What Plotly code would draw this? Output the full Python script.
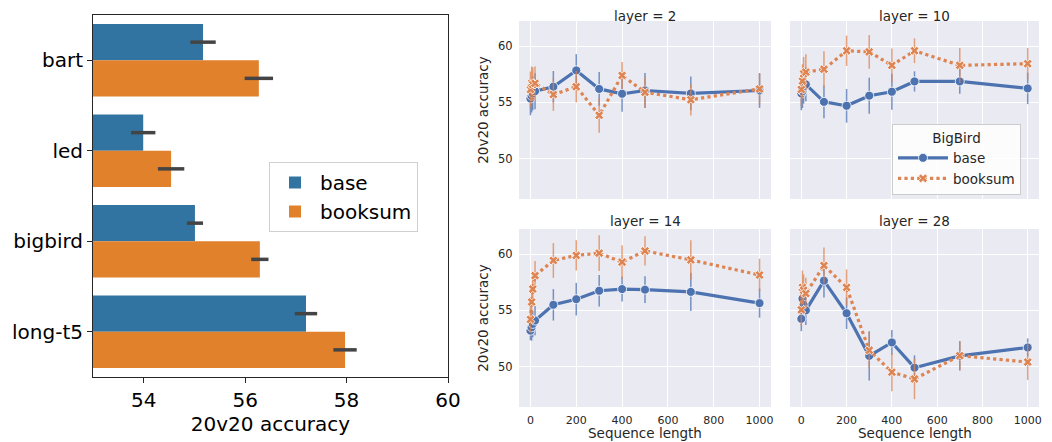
import plotly.graph_objects as go

# Pylväskuvaajan tiedot (20v20 accuracy, mallit)
models = ["bart", "led", "bigbird", "long-t5"]
acc_base = [55.17, 53.99, 55.01, 57.20]
acc_base_err = [0.25, 0.24, 0.16, 0.22]
acc_booksum = [56.27, 54.54, 56.29, 57.97]
acc_booksum_err = [0.28, 0.26, 0.17, 0.23]

# BigBird, tarkkuus sekvenssin pituuden mukaan eri kerroksissa
seq_len = [0, 5, 10, 20, 100, 200, 300, 400, 500, 700, 1000]
layers = [2, 10, 14, 28]

base_l2 = [55.35, 55.6, 55.8, 56.0, 56.4, 57.85, 56.2, 55.77, 56.06, 55.8, 56.06]
base_l2_err = [1.5, 1.5, 1.5, 1.6, 1.4, 1.45, 1.5, 1.6, 1.55, 1.5, 1.55]
booksum_l2 = [56.15, 56.7, 56.6, 56.7, 55.7, 56.4, 53.85, 57.4, 55.9, 55.24, 56.2]
booksum_l2_err = [1.6, 1.5, 1.5, 1.5, 1.45, 1.4, 1.55, 1.2, 1.35, 1.4, 1.4]

base_l10 = [55.8, 56.0, 56.4, 56.6, 55.05, 54.7, 55.6, 55.95, 56.87, 56.87, 56.25]
base_l10_err = [1.5, 1.5, 1.5, 1.5, 1.45, 1.5, 1.6, 1.6, 0.9, 1.1, 1.4]
booksum_l10 = [56.15, 56.9, 57.55, 57.7, 57.95, 59.6, 59.5, 58.3, 59.6, 58.3, 58.45]
booksum_l10_err = [1.5, 1.5, 1.5, 1.6, 1.6, 1.35, 1.5, 1.5, 1.1, 1.55, 1.4]

base_l14 = [53.2, 53.5, 53.8, 54.1, 55.5, 56.0, 56.75, 56.9, 56.85, 56.65, 55.65]
base_l14_err = [0.85, 1.2, 1.2, 1.3, 1.4, 1.45, 1.4, 1.1, 1.2, 1.7, 1.3]
booksum_l14 = [54.2, 55.75, 56.9, 58.1, 59.45, 59.9, 60.1, 59.3, 60.3, 59.5, 58.15]
booksum_l14_err = [1.2, 1.3, 1.3, 1.3, 1.55, 1.35, 1.6, 1.5, 1.3, 1.75, 1.45]

base_l28 = [54.25, 56.05, 55.5, 55.0, 57.65, 54.75, 50.95, 52.15, 49.9, 50.95, 51.7]
base_l28_err = [1.1, 1.2, 1.2, 1.3, 1.5, 1.4, 2.2, 1.1, 1.1, 1.3, 0.8]
booksum_l28 = [55.05, 57.05, 56.8, 56.5, 59.0, 57.05, 51.45, 49.5, 48.9, 50.97, 50.4]
booksum_l28_err = [1.4, 1.5, 1.4, 1.4, 1.6, 1.6, 1.65, 1.7, 1.8, 1.3, 1.6]

base_series = [(base_l2, base_l2_err), (base_l10, base_l10_err), (base_l14, base_l14_err), (base_l28, base_l28_err)]
booksum_series = [(booksum_l2, booksum_l2_err), (booksum_l10, booksum_l10_err),
                  (booksum_l14, booksum_l14_err), (booksum_l28, booksum_l28_err)]

FONT = "DejaVu Sans"
# Sivun body-marginaali (8px) siirtää kuvaa, joten kuva on 8px pienempi
OFF = 8
W, H = 1052 - OFF, 442 - OFF

fig = go.Figure()

# Pylväät
fig.add_trace(go.Bar(
  y=models, x=acc_base, name="base", orientation="h",
  marker={"color": "#3274a1", "line": {"width": 0}},
  error_x={"type": "data", "array": acc_base_err, "color": "#444444", "thickness": 3.5, "width": 0},
  legend="legend", xaxis="x", yaxis="y"))
fig.add_trace(go.Bar(
  y=models, x=acc_booksum, name="booksum", orientation="h",
  marker={"color": "#e1812c", "line": {"width": 0}},
  error_x={"type": "data", "array": acc_booksum_err, "color": "#444444", "thickness": 3.5, "width": 0},
  legend="legend", xaxis="x", yaxis="y"))

# Viivakuvaajat
for i, layer in enumerate(layers):
  ax = str(i + 2)
  show = (layer == 10)
  vals, errs = base_series[i]
  fig.add_trace(go.Scatter(
    x=seq_len, y=vals, name="base", mode="lines+markers",
    line={"color": "#4c72b0", "width": 3.2},
    marker={"symbol": "circle", "size": 9, "color": "#4c72b0", "line": {"color": "white", "width": 0.8}},
    error_y={"type": "data", "array": errs, "color": "rgba(76,114,176,0.75)", "thickness": 1.5, "width": 0},
    legend="legend2", legendgroup="base", showlegend=show,
    xaxis="x" + ax, yaxis="y" + ax))
  vals, errs = booksum_series[i]
  fig.add_trace(go.Scatter(
    x=seq_len, y=vals, name="booksum", mode="lines+markers",
    line={"color": "#dd8452", "width": 3.2, "dash": "dot"},
    marker={"symbol": "x", "size": 8, "color": "#dd8452", "line": {"color": "white", "width": 0.8}},
    error_y={"type": "data", "array": errs, "color": "rgba(221,132,82,0.75)", "thickness": 1.5, "width": 0},
    legend="legend2", legendgroup="booksum", showlegend=show,
    xaxis="x" + ax, yaxis="y" + ax))

def px_x(a, b):
  return [(a - OFF) / W, (b - OFF) / W]

def px_y(top, bottom):
  return [1 - (bottom - OFF) / H, 1 - (top - OFF) / H]

grid_x = {"range": [-50, 1050], "tickvals": [0, 200, 400, 600, 800, 1000], "showgrid": True,
          "gridcolor": "white", "gridwidth": 1.2, "zeroline": False, "showline": False,
          "ticks": "", "ticklabelstandoff": 5, "ticklabeloverflow": "allow",
          "tickfont": {"size": 11, "color": "#262626"}, "automargin": False}
grid_y = {"range": [46.4, 62.25], "tickvals": [50, 55, 60], "showgrid": True,
          "gridcolor": "white", "gridwidth": 1.2, "zeroline": False, "showline": False,
          "ticks": "outside", "ticklen": 3, "tickcolor": "rgba(0,0,0,0)",
          "tickfont": {"size": 11.5, "color": "#262626"}, "automargin": False}

cols = [(519, 771), (790, 1039), (519, 771), (790, 1039)]
rows = [(21, 199), (21, 199), (229, 407), (229, 407)]

layout_axes = {}
for i in range(4):
  ax = str(i + 2)
  xa = dict(grid_x, domain=px_x(*cols[i]), anchor="y" + ax)
  ya = dict(grid_y, domain=px_y(*rows[i]), anchor="x" + ax)
  if i < 2:
    xa["showticklabels"] = False
  if i in (1, 3):
    ya["showticklabels"] = False
  else:
    ya["title"] = {"text": "20v20 accuracy", "font": {"size": 13.5, "color": "#262626"}, "standoff": 6}
  layout_axes["xaxis" + ax] = xa
  layout_axes["yaxis" + ax] = ya

# Alikuvaajien harmaa tausta
for i in range(4):
  x0, x1 = px_x(*cols[i])
  y0, y1 = px_y(*rows[i])
  fig.add_shape(type="rect", xref="paper", yref="paper", x0=x0, x1=x1, y0=y0, y1=y1,
                fillcolor="#eaeaf2", line={"width": 0}, layer="below")

# Päivitä layoutia
fig.update_layout(
  width=W, height=H,
  margin={"l": 0, "r": 0, "t": 0, "b": 0},
  paper_bgcolor="white",
  plot_bgcolor="rgba(0,0,0,0)",
  font={"family": FONT, "color": "#262626"},
  barmode="group", bargap=0.2, bargroupgap=0,
  xaxis={"domain": px_x(93, 448), "range": [53, 60], "tickvals": [54, 56, 58, 60],
         "showgrid": False, "zeroline": False, "showline": True, "mirror": True,
         "linecolor": "#262626", "linewidth": 1, "ticks": "outside", "ticklen": 5,
         "tickcolor": "#262626", "tickfont": {"size": 20, "color": "black"}, "automargin": False,
         "title": {"text": "20v20 accuracy", "font": {"size": 20, "color": "black"}, "standoff": 4}},
  yaxis={"domain": px_y(15, 377), "range": [3.5, -0.5], "showgrid": False,
         "zeroline": False, "showline": True, "mirror": True, "linecolor": "#262626",
         "linewidth": 1, "ticks": "outside", "ticklen": 5, "tickcolor": "#262626",
         "tickfont": {"size": 20, "color": "black"}, "automargin": False},
  legend={"x": (269 - OFF) / W, "y": 1 - (162 - OFF) / H, "xanchor": "left", "yanchor": "top",
          "bgcolor": "white", "bordercolor": "#d0d0d0", "borderwidth": 1,
          "font": {"size": 20, "color": "black"}, "itemwidth": 40, "tracegroupgap": 0},
  legend2={"x": (892 - OFF) / W, "y": 1 - (124 - OFF) / H, "xanchor": "left", "yanchor": "top",
           "bgcolor": "rgba(255,255,255,0.85)", "bordercolor": "#cccccc", "borderwidth": 1,
           "font": {"size": 13.5, "color": "#262626"}, "itemwidth": 50, "tracegroupgap": 0,
           "title": {"text": "BigBird", "side": "top center", "font": {"size": 13.5}}},
  **layout_axes
)

# Alikuvaajien otsikot
for i, layer in enumerate(layers):
  a, b = cols[i]
  top = rows[i][0]
  yc = max(top - 8.5, 16)
  fig.add_annotation({
    "text": "layer = %d" % layer,
    "x": ((a + b) / 2 - OFF) / W, "y": 1 - (yc - OFF) / H,
    "xref": "paper", "yref": "paper", "xanchor": "center", "yanchor": "middle",
    "showarrow": False, "font": {"size": 13.5, "color": "#262626"}})

# x-akselin otsikot alariville
for i in (2, 3):
  a, b = cols[i]
  fig.add_annotation({
    "text": "Sequence length",
    "x": ((a + b) / 2 - OFF) / W, "y": 1 - (433 - OFF) / H,
    "xref": "paper", "yref": "paper", "xanchor": "center", "yanchor": "middle",
    "showarrow": False, "font": {"size": 13.5, "color": "#262626"}})

fig.write_html("out.html")
